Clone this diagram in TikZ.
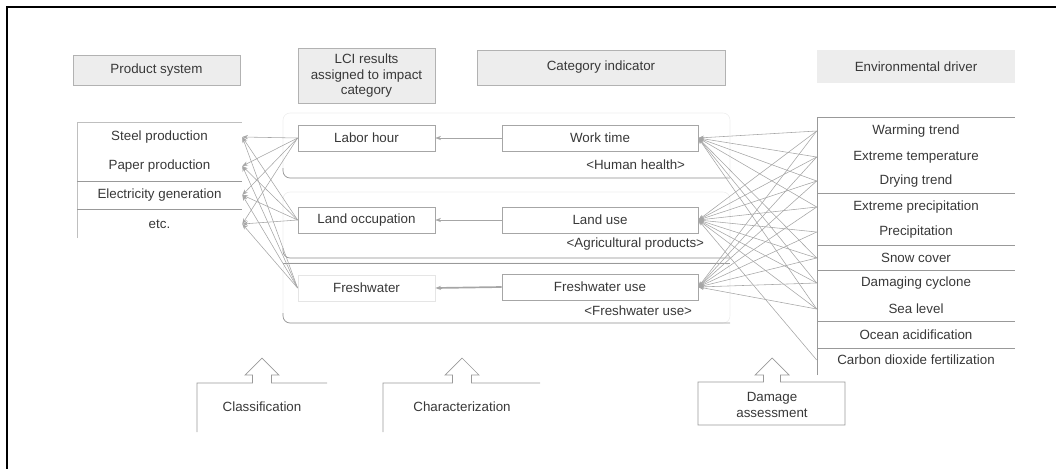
\documentclass[tikz,border=0pt]{standalone}
\usepackage{fontspec}
\setmainfont{Liberation Sans}
\usetikzlibrary{arrows.meta}

\begin{document}
\begin{tikzpicture}[x=0.025cm,y=-0.025cm,
    every node/.style={text=black!78,font=\fontsize{9.5}{11}\selectfont},
    hdr/.style={fill=black!7,draw=black!30,inner sep=1pt},
    lci/.style={draw=black!35,minimum width=3.43cm,minimum height=0.65cm},
    ind/.style={draw=black!35,minimum width=4.9cm,minimum height=0.65cm},
    prod/.style={minimum width=4.125cm,minimum height=0.6cm},
    drv/.style={minimum width=4.95cm,minimum height=0.6cm},
    con/.style={draw=black!35,line width=0.4pt,-{Stealth[length=4pt,width=3pt]}},
    sep/.style={draw=black!40,line width=0.5pt},
    box/.style={draw=black!40,line width=0.5pt}]
    \useasboundingbox (0,0) rectangle (1056,468);

    % Rahmen
    \draw[line width=2pt] (7,480) |- (1070,7);

    % Kopfzeilen
    \node[hdr,minimum width=4.18cm,minimum height=0.75cm] (hps) at (156.5,70) {Product system};
    \node[hdr,minimum width=3.43cm,minimum height=1.38cm,align=center] (hlci) at (366.5,76)
        {LCI results\\assigned to impact\\category};
    \node[hdr,minimum width=6.2cm,minimum height=0.875cm] (hci) at (601,67.5) {Category indicator};
    \node[hdr,draw=none,minimum width=4.95cm,minimum height=0.83cm] (hed) at (916,66.5) {Environmental driver};

    % Gruppen
    \draw[black!7,rounded corners=5pt] (283,113) rectangle (730,178);
    \draw[black!7,rounded corners=5pt] (283,192) rectangle (730,258);
    \draw[black!7,rounded corners=5pt] (283,263) rectangle (730,323);
    \draw[sep,rounded corners=5pt] (283,168) |- (730,178);
    \draw[sep,rounded corners=5pt] (283,248) |- (730,258);
    \draw[sep] (283,263) -- (730,263);
    \draw[sep,rounded corners=5pt] (283,313) |- (730,323);

    % Produktsystem
    \node[prod] (p1) at (159.5,137) {Steel production};
    \node[prod] (p2) at (159.5,166) {Paper production};
    \node[prod] (p3) at (159.5,195) {Electricity generation};
    \node[prod] (p4) at (159.5,224) {etc.};
    \draw[black!25] (77,238) |- (242,122);
    \draw[sep] (77,181) -- (242,181);
    \draw[sep] (77,209) -- (242,209);

    % LCI-Ergebnisse
    \node[lci] (lh) at (366.5,138) {Labor hour};
    \node[lci] (lo) at (366.5,220) {Land occupation};
    \node[lci,draw=black!10] (fw) at (366.5,288) {Freshwater};

    % Wirkungsindikatoren
    \node[ind] (wt) at (600,138) {Work time};
    \node[ind] (lu) at (600,220) {Land use};
    \node[ind] (fu) at (600,287) {Freshwater use};
    \node[anchor=east] (hh) at (690,165) {<Human health>};
    \node[anchor=east] (ap) at (709,244) {<Agricultural products>};
    \node[anchor=east] (fwu) at (697,311) {<Freshwater use>};

    % Umwelttreiber
    \node[drv] (d1) at (916,131) {Warming trend};
    \node[drv] (d2) at (916,157) {Extreme temperature};
    \node[drv] (d3) at (916,181) {Drying trend};
    \node[drv] (d4) at (916,207) {Extreme precipitation};
    \node[drv] (d5) at (916,232) {Precipitation};
    \node[drv] (d6) at (916,258) {Snow cover};
    \node[drv] (d7) at (916,283) {Damaging cyclone};
    \node[drv] (d8) at (916,309) {Sea level};
    \node[drv] (d9) at (916,335) {Ocean acidification};
    \node[drv] (d10) at (916,360) {Carbon dioxide fertilization};
    \draw[sep] (817,375) |- (1015,117);
    \foreach \y in {193,245,270,321,348}
        \draw[sep] (817,\y) -- (1015,\y);

    % Pfeile
    \draw[con] (wt.west) -- (lh.east);
    \draw[con] (lu.west) -- (lo.east);
    \draw[con,line width=1.2pt] (fu.west) -- (fw.east);
    \foreach \s in {lh,lo,fw}
        \foreach \t in {p1,p2,p3,p4}
            \draw[con] (\s.west) -- (\t.east);
    \foreach \d in {d1,d2,d3,d4,d6,d7,d8}
        \draw[con] (\d.west) -- (wt.east);
    \foreach \d in {d1,d2,d3,d4,d5,d6,d7,d8,d10}
        \draw[con] (\d.west) -- (lu.east);
    \foreach \d in {d1,d2,d3,d4,d5,d6,d7,d8}
        \draw[con] (\d.west) -- (fu.east);

    % Schritte unten
    \foreach \x/\a/\b in {262/197/327,462/383/540}
        \draw[box] (\a,432) |- (\x-9.5,383) -- ++(0,-8) -- ++(-7.5,0) -- (\x,358)
            -- (\x+17,375) -- ++(-7.5,0) -- ++(0,8) -- (\b,383);
    \draw[box] (698,425) |- (763.5,382) -- ++(0,-7) -- ++(-8.5,0) -- (772,358)
        -- (789,375) -- ++(-8.5,0) -- ++(0,7) -| (845,425) -- cycle;
    \node (cls) at (262,407) {Classification};
    \node (chr) at (462,407) {Characterization};
    \node[align=center] (dmg) at (772,405) {Damage\\assessment};
\end{tikzpicture}
\end{document}
